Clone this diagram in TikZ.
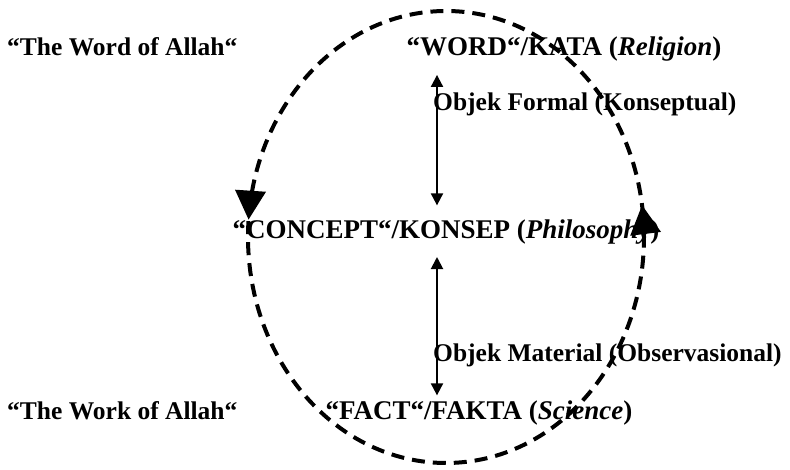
\documentclass[tikz,border=0pt]{standalone}
\usepackage{fontspec}
\setmainfont{Liberation Serif}
\usetikzlibrary{arrows.meta}
\usetikzlibrary{decorations.markings}

\begin{document}
\begin{tikzpicture}[x=1pt,y=1pt,
  lbl/.style={inner sep=0pt,font=\fontsize{25.5}{30}\selectfont\bfseries},
  caps/.style={lbl,font=\fontsize{27}{30}\selectfont\bfseries},
  vec/.style={line width=2pt,{Triangle[width=12pt,length=12pt]}-{Triangle[width=12pt,length=12pt]}},
  loopline/.style={line width=4pt,dash pattern=on 13pt off 8pt,
    decoration={markings,
      mark=at position 0.024 with {\arrow{Triangle[width=30pt,length=29pt]}},
      mark=at position 0.487 with {\arrow{Triangle[width=30pt,length=29pt]}}},
    postaction={decorate}}]
\useasboundingbox (0,0) rectangle (790,470);
\node[lbl,anchor=base west] (wallah) at (7,414) {“The Word of Allah“};
\node[caps,anchor=base] (word) at (564,414) {“WORD“/KATA (\textit{Religion})};
\node[lbl,anchor=base west] (formal) at (433,359) {Objek Formal (Konseptual)};
\node[caps,anchor=base] (concept) at (446,231) {“CONCEPT“/KONSEP (\textit{Philosophy})};
\node[lbl,anchor=base west] (material) at (433,108) {Objek Material (Observasional)};
\node[lbl,anchor=base west] (kallah) at (7,50) {“The Work of Allah“};
\node[caps,anchor=base] (fact) at (479,50) {“FACT“/FAKTA (\textit{Science})};

\coordinate (ax) at (437,0);
\draw[vec,shorten <=13pt,shorten >=14.7pt] (word.south -| ax) -- (concept.north -| ax);
\draw[vec,shorten <=12pt,shorten >=5.7pt] (concept.south -| ax) -- (fact.north -| ax);

\draw[loopline] (446,233) ellipse [x radius=198pt, y radius=226pt];
\end{tikzpicture}
\end{document}
